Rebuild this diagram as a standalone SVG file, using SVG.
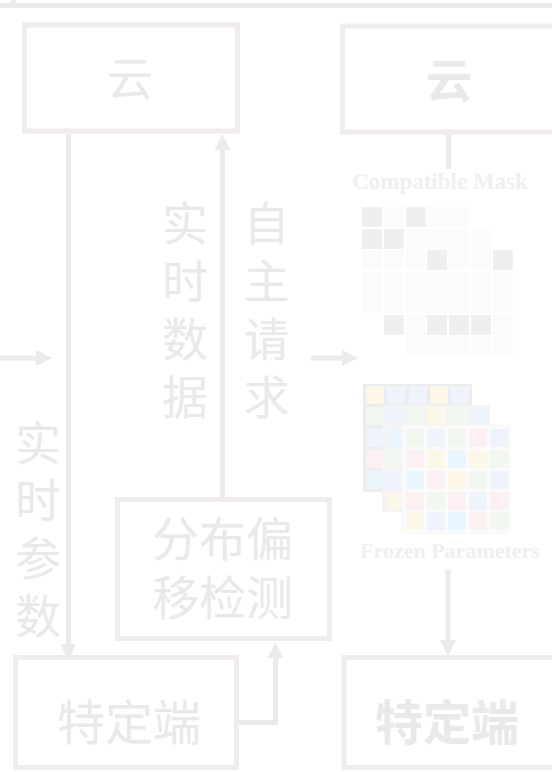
<svg xmlns="http://www.w3.org/2000/svg" width="552" height="772" viewBox="0 0 552 772">
<defs>
<style>
.box{fill:#ffffff;stroke:#efebee;stroke-width:5}
.ln{fill:none;stroke:#ebebeb;stroke-width:5}
.cjk{font-family:"Noto Sans CJK SC","Noto Sans",sans-serif;fill:#e9e9e9;text-anchor:middle}
.b{font-weight:bold}
.lbl{font-family:"Liberation Serif",serif;font-weight:bold;fill:#efefef;text-anchor:middle}
.md{fill:#efefef}.ml{fill:#fbfbfb}
.y{fill:#fdf7e8}.bl{fill:#eff4fc}.g{fill:#f2f8ef}.p{fill:#fcf0f3}.c{fill:#eaf6fd}
</style>
<marker id="ah" viewBox="0 0 16 16" markerUnits="userSpaceOnUse" markerWidth="16" markerHeight="16" refX="1" refY="8" orient="auto">
<path d="M0,0 L16,8 L0,16 z" fill="#ebebeb"/>
</marker>
</defs>
<rect width="552" height="772" fill="#ffffff"/>
<g id="frame">
<path d="M0,5.5 H552 M13.5,0 V5" class="ln" stroke="#e9e9e9"/>
</g>
<g id="connectors">
<path class="ln" d="M0,358 H37" marker-end="url(#ah)"/>
<path class="ln" d="M311,358 H343" marker-end="url(#ah)"/>
<path class="ln" d="M68.5,134 V645" marker-end="url(#ah)"/>
<path class="ln" d="M222.5,497 V149" marker-end="url(#ah)"/>
<path class="ln" d="M237,722.5 H275.5 V657" marker-end="url(#ah)"/>
<path class="ln" d="M448.5,135 V169"/>
<path class="ln" d="M448,570 V641" marker-end="url(#ah)"/>
</g>
<g id="cloud-left">
<rect class="box" x="24.5" y="25" width="213" height="106"/>
<text class="cjk" x="130" y="95" font-size="46">云</text>
</g>
<g id="cloud-right">
<rect class="box" x="342.5" y="26" width="216" height="106"/>
<text class="cjk b" x="449" y="97" font-size="46">云</text>
</g>
<g id="label-realtime-data">
<text class="cjk" x="185" font-size="46"><tspan x="185" y="240">实</tspan><tspan x="185" y="298">时</tspan><tspan x="185" y="356">数</tspan><tspan x="185" y="414">据</tspan></text>
</g>
<g id="label-request">
<text class="cjk" x="266.5" font-size="46"><tspan x="266.5" y="240">自</tspan><tspan x="266.5" y="298">主</tspan><tspan x="266.5" y="356">请</tspan><tspan x="266.5" y="414">求</tspan></text>
</g>
<g id="label-realtime-params">
<text class="cjk" x="38" font-size="46"><tspan x="38" y="460">实</tspan><tspan x="38" y="517">时</tspan><tspan x="38" y="575">参</tspan><tspan x="38" y="633">数</tspan></text>
</g>
<g id="drift-detect">
<rect class="box" x="117.5" y="499.5" width="212" height="139"/>
<text class="cjk" x="222.5" y="556" font-size="47">分布偏</text>
<text class="cjk" x="222.5" y="615" font-size="47">移检测</text>
</g>
<g id="compatible-mask">
<text class="lbl" x="440" y="189" font-size="23">Compatible Mask</text>
<rect class="md" x="362" y="207" width="20" height="20"/><rect class="ml" x="384" y="207" width="20" height="20"/><rect class="md" x="406" y="207" width="20" height="20"/><rect class="ml" x="427" y="207" width="20" height="20"/><rect class="ml" x="449" y="207" width="20" height="20"/>
<rect class="md" x="362" y="229" width="20" height="20"/><rect class="md" x="384" y="229" width="20" height="20"/><rect class="ml" x="406" y="229" width="20" height="20"/><rect class="ml" x="427" y="229" width="20" height="20"/><rect class="ml" x="449" y="229" width="20" height="20"/><rect class="ml" x="471" y="229" width="20" height="20"/>
<rect class="ml" x="362" y="250" width="20" height="20"/><rect class="ml" x="384" y="250" width="20" height="20"/><rect class="ml" x="406" y="250" width="20" height="20"/><rect class="md" x="427" y="250" width="20" height="20"/><rect class="ml" x="449" y="250" width="20" height="20"/><rect class="ml" x="471" y="250" width="20" height="20"/><rect class="md" x="493" y="250" width="20" height="20"/>
<rect class="ml" x="362" y="272" width="20" height="20"/><rect class="ml" x="384" y="272" width="20" height="20"/><rect class="ml" x="406" y="272" width="20" height="20"/><rect class="ml" x="427" y="272" width="20" height="20"/><rect class="ml" x="449" y="272" width="20" height="20"/><rect class="ml" x="471" y="272" width="20" height="20"/><rect class="ml" x="493" y="272" width="20" height="20"/>
<rect class="ml" x="362" y="293" width="20" height="20"/><rect class="ml" x="384" y="293" width="20" height="20"/><rect class="ml" x="406" y="293" width="20" height="20"/><rect class="ml" x="427" y="293" width="20" height="20"/><rect class="ml" x="449" y="293" width="20" height="20"/><rect class="ml" x="471" y="293" width="20" height="20"/><rect class="ml" x="493" y="293" width="20" height="20"/>
<rect class="md" x="384" y="315" width="20" height="20"/><rect class="ml" x="406" y="315" width="20" height="20"/><rect class="md" x="427" y="315" width="20" height="20"/><rect class="md" x="449" y="315" width="20" height="20"/><rect class="md" x="471" y="315" width="20" height="20"/><rect class="ml" x="493" y="315" width="20" height="20"/>
<rect class="ml" x="406" y="336" width="20" height="20"/><rect class="ml" x="427" y="336" width="20" height="20"/><rect class="ml" x="449" y="336" width="20" height="20"/><rect class="ml" x="471" y="336" width="20" height="20"/><rect class="ml" x="493" y="336" width="20" height="20"/>
</g>
<g id="frozen-parameters">
<rect x="363" y="384" width="109" height="108" fill="#ececec"/>
<rect class="y" x="366" y="386" width="18" height="18"/><rect class="bl" x="387" y="386" width="18" height="18"/><rect class="bl" x="409" y="386" width="18" height="18"/><rect class="y" x="430" y="386" width="18" height="18"/><rect class="bl" x="451" y="386" width="18" height="18"/>
<rect class="g" x="366" y="407" width="18" height="18"/><rect class="bl" x="366" y="429" width="18" height="18"/><rect class="p" x="366" y="450" width="18" height="18"/><rect class="c" x="366" y="471" width="18" height="18"/>
<rect x="382" y="405" width="108" height="107" fill="#f4f4f4"/>
<rect class="bl" x="387" y="407" width="18" height="18"/><rect class="g" x="407" y="407" width="18" height="18"/><rect class="y" x="428" y="407" width="18" height="18"/><rect class="g" x="448" y="407" width="18" height="18"/><rect class="bl" x="469" y="407" width="18" height="18"/>
<rect class="c" x="387" y="429" width="16" height="18"/><rect class="g" x="387" y="450" width="16" height="18"/><rect class="bl" x="387" y="471" width="16" height="18"/><rect class="y" x="387" y="492" width="16" height="18"/>
<rect x="402" y="425" width="108" height="108" fill="#fbfbfb" stroke="#f6f6f6" stroke-width="1"/>
<rect class="g" x="406" y="429" width="18" height="18"/><rect class="bl" x="427" y="429" width="18" height="18"/><rect class="g" x="448" y="429" width="18" height="18"/><rect class="p" x="469" y="429" width="18" height="18"/><rect class="bl" x="490" y="429" width="18" height="18"/>
<rect class="p" x="406" y="450" width="18" height="18"/><rect class="y" x="427" y="450" width="18" height="18"/><rect class="c" x="448" y="450" width="18" height="18"/><rect class="y" x="469" y="450" width="18" height="18"/><rect class="g" x="490" y="450" width="18" height="18"/>
<rect class="c" x="406" y="471" width="18" height="18"/><rect class="p" x="427" y="471" width="18" height="18"/><rect class="y" x="448" y="471" width="18" height="18"/><rect class="g" x="469" y="471" width="18" height="18"/><rect class="bl" x="490" y="471" width="18" height="18"/>
<rect class="p" x="406" y="492" width="18" height="18"/><rect class="g" x="427" y="492" width="18" height="18"/><rect class="p" x="448" y="492" width="18" height="18"/><rect class="bl" x="469" y="492" width="18" height="18"/><rect class="p" x="490" y="492" width="18" height="18"/>
<rect class="y" x="406" y="512" width="18" height="18"/><rect class="bl" x="427" y="512" width="18" height="18"/><rect class="c" x="448" y="512" width="18" height="18"/><rect class="p" x="469" y="512" width="18" height="18"/><rect class="g" x="490" y="512" width="18" height="18"/>
<text class="lbl" x="450" y="558" font-size="22">Frozen Parameters</text>
</g>
<g id="device-left">
<rect class="box" x="15.5" y="657.5" width="221" height="110"/>
<text class="cjk" x="129" y="740" font-size="48">特定端</text>
</g>
<g id="device-right">
<rect class="box" x="344" y="657.5" width="216" height="110"/>
<text class="cjk b" x="447" y="740" font-size="48">特定端</text>
</g>
</svg>
